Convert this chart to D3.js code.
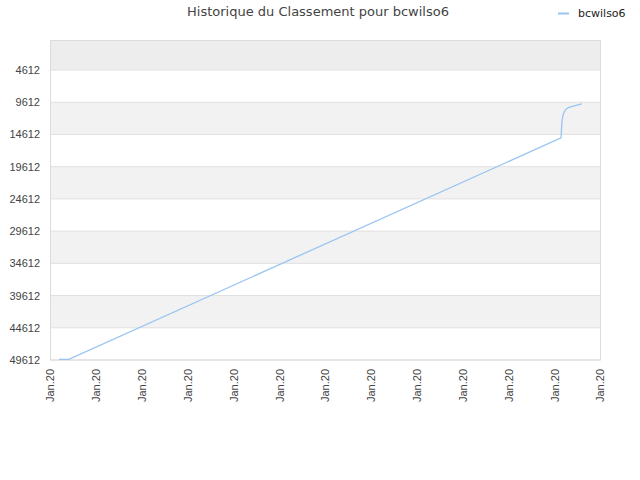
<!DOCTYPE html>
<html>
<head>
<meta charset="utf-8">
<script src="https://cdn.jsdelivr.net/npm/d3@7"></script>
<style>
body{margin:0;background:#fff}
svg{font-family:"DejaVu Sans",sans-serif}
</style>
</head>
<body>
<svg width="640" height="480"></svg>
<script>
// data
const player = "bcwilso6"
const title = "Historique du Classement pour " + player
const xTicks = ["Jan.20","Jan.20","Jan.20","Jan.20","Jan.20","Jan.20","Jan.20","Jan.20","Jan.20","Jan.20","Jan.20","Jan.20","Jan.20"]
const yTicks = [4612, 9612, 14612, 19612, 24612, 29612, 34612, 39612, 44612, 49612]
// position along the time axis (tick index) and rank
const pos  = [0.2, 0.41, 11.15, 11.16, 11.17, 11.19, 11.22, 11.26, 11.32, 11.42, 11.6]
const rank = [49500, 49500, 15150, 13800, 12600, 11700, 11100, 10700, 10400, 10200, 9850]

const svg = d3.select("svg")
const m = {l:50, r:600, t:40, b:360}

const x = d3.scaleLinear().domain([0, xTicks.length-1]).range([m.l, m.r])
const y = d3.scaleLinear().domain([49612, -46]).range([m.b, m.t])

// alternating bands between gridlines
let edges = [y.domain()[1]].concat(yTicks)
for(let i=0;i<edges.length-1;i++){
	svg.append("rect")
		.attr("x", m.l)
		.attr("y", y(edges[i]))
		.attr("width", m.r-m.l)
		.attr("height", y(edges[i+1])-y(edges[i]))
		.attr("fill", i==0 ? "#ededed" : (i%2==0 ? "#f2f2f2" : "#ffffff"))
}

// gridlines
svg.append("g").selectAll("line")
	.data(yTicks)
	.join("line")
	  .attr("x1", m.l).attr("x2", m.r)
	  .attr("y1", d=>y(d)).attr("y2", d=>y(d))
	  .attr("stroke", "#e0e0e0")

svg.append("rect")
	.attr("x", m.l+0.5).attr("y", m.t+0.5)
	.attr("width", m.r-m.l).attr("height", m.b-m.t-0.5)
	.attr("fill", "none")
	.attr("stroke", "#dcdcdc")

// y axis
const yAxis = svg.append("g")
	.attr("transform", `translate(${m.l},0)`)
	.call(d3.axisLeft(y).tickValues(yTicks).tickSize(0).tickPadding(10).tickFormat(d=>d))
yAxis.select(".domain").remove()
yAxis.selectAll("text").attr("fill", "#444").style("font-size", "11px")

// x axis
const xAxis = svg.append("g")
	.attr("transform", `translate(0,${m.b})`)
	.call(d3.axisBottom(x).tickValues(d3.range(xTicks.length)).tickSize(0).tickFormat(i=>xTicks[i]))
xAxis.select(".domain").remove()
xAxis.selectAll("text")
	.attr("fill", "#444")
	.style("font-size", "11px")
	.attr("text-anchor", "end")
	.attr("transform", "rotate(-90)")
	.attr("x", -9)
	.attr("y", 0)
	.attr("dy", "0.35em")

// line
const line = d3.line()
	.x((d,i)=>x(pos[i]))
	.y(d=>y(d))
svg.append("path")
	.datum(rank)
	.attr("d", line)
	.attr("fill", "none")
	.attr("stroke", "#99c4f2")
	.attr("stroke-width", 1.3)

// title
svg.append("text")
	.attr("x", 318).attr("y", 16)
	.attr("text-anchor", "middle")
	.attr("fill", "#444")
	.style("font-size", "13px")
	.text(title)

// legend
svg.append("line")
	.attr("x1", 558).attr("x2", 569)
	.attr("y1", 13.5).attr("y2", 13.5)
	.attr("stroke", "#99c4f2").attr("stroke-width", 2)
svg.append("text")
	.attr("x", 578).attr("y", 17)
	.attr("fill", "#222")
	.style("font-size", "11px")
	.text(player)
</script>
</body>
</html>
